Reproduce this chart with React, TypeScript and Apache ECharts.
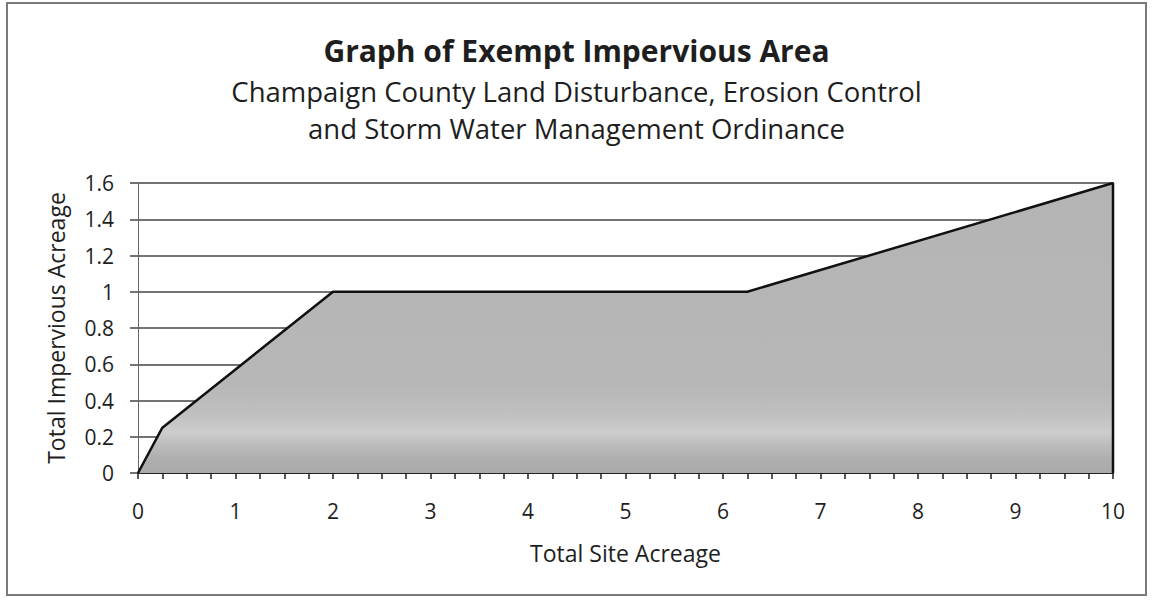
import React, { useEffect, useRef } from "react";
import * as echarts from "echarts";

const siteAcreage = [0, 0.25, 2, 6.25, 10];
const imperviousAcreage = [0, 0.25, 1, 1, 1.6];
const titleText = "Graph of Exempt Impervious Area";
const subtitleLines = [
  "Champaign County Land Disturbance, Erosion Control",
  "and Storm Water Management Ordinance",
];
const xAxisName = "Total Site Acreage";
const yAxisName = "Total Impervious Acreage";

const FONT = "'Open Sans', 'Noto Sans', sans-serif";

export default function App() {
  const ref = useRef<HTMLDivElement>(null);
  useEffect(() => {
    if (!ref.current) return;
    const chart = echarts.init(ref.current, null, { renderer: "svg" });
    const pts = siteAcreage.map((x, i) => [x, imperviousAcreage[i]]);
    const lastX = siteAcreage[siteAcreage.length - 1];
    const closed = [...pts, [lastX, 0]];
    chart.setOption({
      animation: false,
      backgroundColor: "#ffffff",
      title: {
        text: titleText,
        subtext: subtitleLines.join("\n"),
        left: "center",
        top: 30,
        itemGap: 8,
        textStyle: {
          fontFamily: FONT,
          fontWeight: "bold",
          fontSize: 30,
          color: "#1e1e1e",
        },
        subtextStyle: {
          fontFamily: FONT,
          fontSize: 27.5,
          lineHeight: 37,
          color: "#1e1e1e",
        },
      },
      graphic: [
        {
          type: "rect",
          shape: { x: 7, y: 3, width: 1139, height: 592 },
          style: { fill: "none", stroke: "#7a7a7a", lineWidth: 2 },
          silent: true,
        },
      ],
      grid: { left: 138, right: 40, top: 183, bottom: 127 },
      xAxis: {
        type: "value",
        min: 0,
        max: 10,
        interval: 1,
        name: xAxisName,
        nameLocation: "middle",
        nameGap: 68,
        nameTextStyle: { fontFamily: FONT, fontSize: 23, color: "#1e1e1e" },
        axisLine: { show: true, lineStyle: { color: "#222", width: 2 } },
        axisTick: { show: true, length: 6, lineStyle: { color: "#222", width: 1.5 } },
        minorTick: { show: true, splitNumber: 4, length: 6, lineStyle: { color: "#222", width: 1.5 } },
        axisLabel: { fontFamily: FONT, fontSize: 21, color: "#1e1e1e", margin: 27 },
        splitLine: { show: false },
      },
      yAxis: {
        type: "value",
        min: 0,
        max: 1.6,
        interval: 0.2,
        name: yAxisName,
        nameLocation: "middle",
        nameGap: 71,
        nameTextStyle: { fontFamily: FONT, fontSize: 23, color: "#1e1e1e" },
        axisLine: { show: true, lineStyle: { color: "#666", width: 1 } },
        axisTick: { show: true, length: 8, lineStyle: { color: "#444", width: 1.5 } },
        axisLabel: {
          fontFamily: FONT,
          fontSize: 21,
          color: "#1e1e1e",
          margin: 24,
          formatter: (v: number) => String(Math.round(v * 10) / 10),
        },
        splitLine: { show: true, lineStyle: { color: "#444", width: 1.5 } },
      },
      series: [
        {
          type: "line",
          data: closed,
          symbol: "none",
          lineStyle: { color: "#111", width: 2.5 },
          areaStyle: {
            opacity: 1,
            color: new echarts.graphic.LinearGradient(0, 0, 0, 1, [
              { offset: 0, color: "#b4b4b4" },
              { offset: 0.7, color: "#b7b7b7" },
              { offset: 0.8, color: "#c0c0c0" },
              { offset: 0.86, color: "#cdcdcd" },
              { offset: 0.9, color: "#bdbdbd" },
              { offset: 0.95, color: "#afafaf" },
              { offset: 1, color: "#aaaaaa" },
            ]),
          },
        },
      ],
    });
    return () => chart.dispose();
  }, []);
  return (
    <div
      ref={ref}
      style={{ position: "fixed", left: 0, top: 0, width: 1153, height: 600 }}
    />
  );
}
